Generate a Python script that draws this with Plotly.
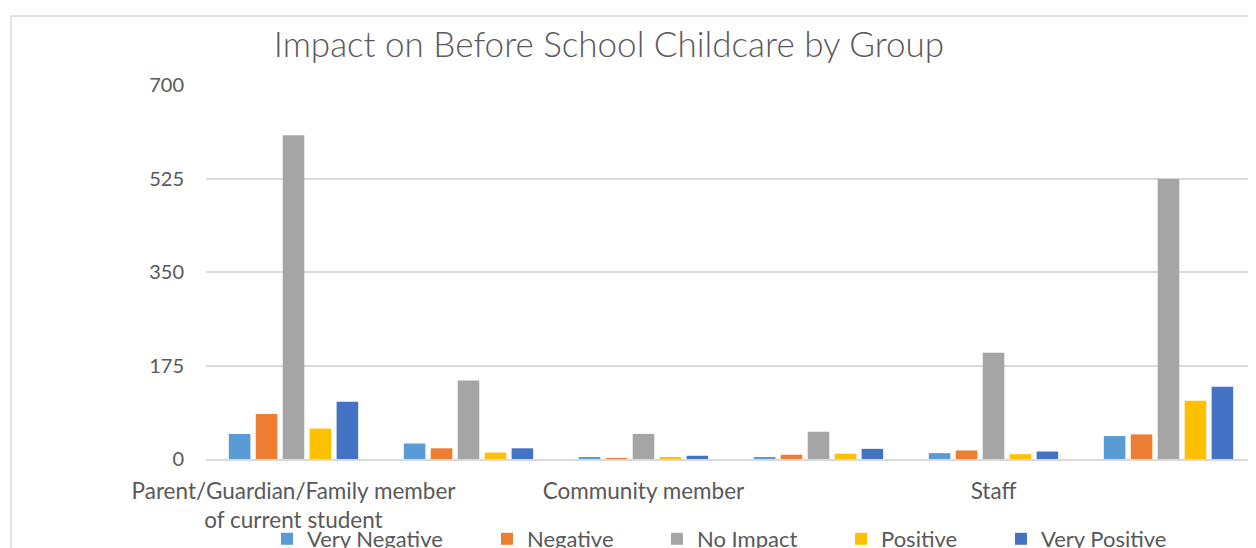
import plotly.graph_objects as go

categories = [
    "Parent/Guardian/Family member of current student",
    "Student",
    "Community member",
    "Other",
    "Staff",
    "Multiple groups",
]
shown_ticks = ["Parent/Guardian/Family member<br>of current student", "Community member", "Staff"]

very_negative = [47, 29, 2, 3, 11, 43]
negative = [84, 20, 1, 8, 16, 46]
no_impact = [606, 147, 47, 51, 199, 524]
positive = [57, 12, 2, 10, 9, 109]
very_positive = [107, 20, 6, 19, 14, 135]

series = [
    ("Very Negative", very_negative, "#5B9BD5"),
    ("Negative", negative, "#ED7D31"),
    ("No Impact", no_impact, "#A5A5A5"),
    ("Positive", positive, "#FFC000"),
    ("Very Positive", very_positive, "#4472C4"),
]
# legend square left edges in the page (px)
legend_px = [283, 503, 673, 857, 1017]

OFF = 8  # page body margin
W, H = 1256 - OFF, 548 - OFF
PL, PT, PB = 206 - OFF, 85 - OFF, 459 - OFF  # plot area in figure px
L, R, T, B = PL, 0, PT, H - PB
pw = W - PL
ph = PB - PT

font = "Lato, 'Open Sans', sans-serif"
txt = "#595959"

fig = go.Figure()
legend_layouts = {}
for i, ((name, vals, col), lx) in enumerate(zip(series, legend_px)):
    key = "legend" if i == 0 else f"legend{i + 1}"
    fig.add_trace(go.Bar(name=name, x=categories, y=vals, legend=key, showlegend=True,
                         marker=dict(color=col, line=dict(width=0))))
    legend_layouts[key] = dict(
        orientation="h", x=(lx - 2 - 14 - 206) / pw, xanchor="left",
        y=-(539 - 459) / ph, yanchor="middle",
        font=dict(size=22, color=txt, family=font),
        bgcolor="rgba(0,0,0,0)", borderwidth=0, visible=True,
    )

fig.update_layout(
    width=W, height=H,
    margin=dict(l=L, r=R, t=T, b=B, autoexpand=False),
    paper_bgcolor="white", plot_bgcolor="white",
    showlegend=True,
    barmode="group", bargap=0.23, bargroupgap=0.2,
    font=dict(family=font, color=txt),
    title=dict(text="Impact on Before School Childcare by Group",
               x=(609 - OFF) / W, xref="container", xanchor="center",
               y=1 - (45 - OFF) / H, yref="container", yanchor="middle",
               font=dict(size=35, color=txt, family=font, weight=300)),
    xaxis=dict(type="category", tickmode="array",
               tickvals=[categories[0], categories[2], categories[4]],
               ticktext=shown_ticks,
               tickfont=dict(size=22.5, color=txt, family=font),
               showgrid=False, showline=True, linecolor="#d9d9d9", linewidth=2,
               ticks="", ticklabelstandoff=11),
    yaxis=dict(range=[0, 700], tickmode="array", tickvals=[0, 175, 350, 525, 700],
               showgrid=True, gridcolor="#d9d9d9", gridwidth=1.5,
               zeroline=False, showline=False, ticks="",
               tickfont=dict(size=20, color=txt, family=font),
               ticklabelstandoff=21),
    shapes=[
        dict(type="line", xref="paper", yref="paper",
             x0=(11 - 206) / pw, x1=(11 - 206) / pw,
             y0=1 + (85 - 16) / ph, y1=-(548 - 459) / ph,
             line=dict(color="#d9d9d9", width=1.5)),
        dict(type="line", xref="paper", yref="paper",
             x0=(11 - 206) / pw, x1=1.01,
             y0=1 + (85 - 16) / ph, y1=1 + (85 - 16) / ph,
             line=dict(color="#d9d9d9", width=1.5)),
    ],
    **legend_layouts,
)

fig.write_html("out.html")
